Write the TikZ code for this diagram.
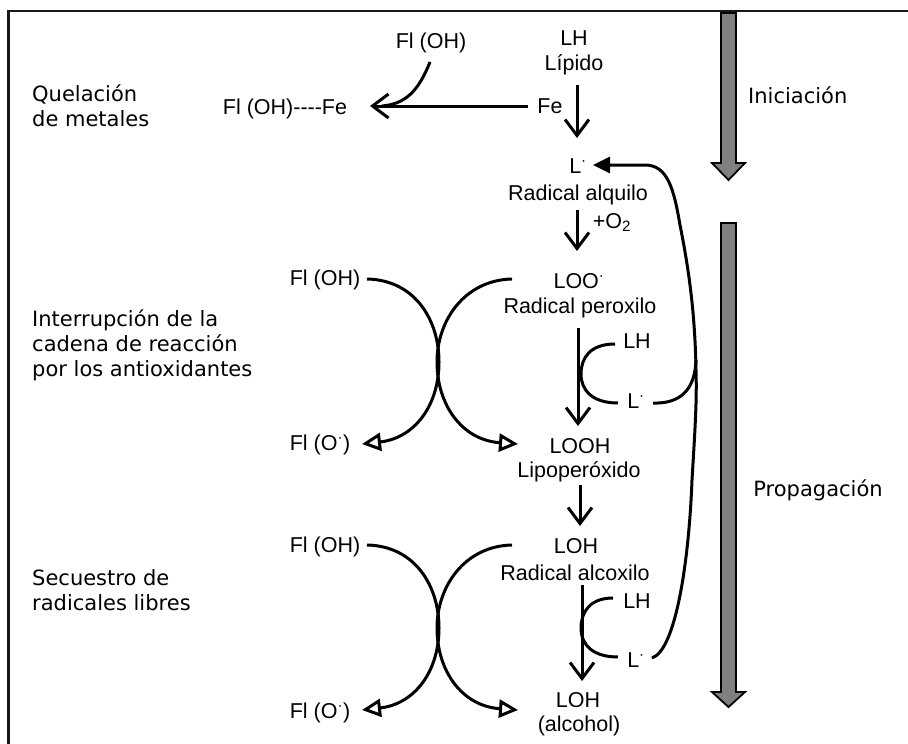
\documentclass[tikz,border=0pt]{standalone}
\usepackage{fontspec}
\setmainfont{Liberation Sans}
\newfontfamily\verd{DejaVu Sans}
\usetikzlibrary{arrows.meta}
\definecolor{arrowgray}{HTML}{808080}
\begin{document}
\begin{tikzpicture}[x=1pt,y=-1pt,
  txt/.style={inner sep=0pt, anchor=base, font=\fontsize{21.5}{24}\selectfont},
  lbl/.style={inner sep=0pt, anchor=base west, font=\verd\fontsize{21}{25}\selectfont},
  conn/.style={line width=3pt},
  barb/.style={conn, -{Straight Barb[length=16pt,width=24pt]}},
  opentri/.style={conn, -{Triangle[open,length=19pt,width=18pt]}},
  filltri/.style={conn, -{Triangle[length=17pt,width=16pt]}},
  bigarrow/.style={fill=arrowgray, draw=black, line width=1.8pt}
]
\useasboundingbox (0,0) rectangle (908,744);
% frame
\draw[line width=2.5pt, black!90] (8.7,744) -- (8.7,10.8) -- (908,10.8);

% left labels
\node[lbl] (q1) at (32,101) {Quelación};
\node[lbl] (q2) at (32,126) {de metales};
\node[lbl] (i1) at (32,326) {Interrupción de la};
\node[lbl] (i2) at (32,351) {cadena de reacción};
\node[lbl] (i3) at (32,376) {por los antioxidantes};
\node[lbl] (s1) at (32,585) {Secuestro de};
\node[lbl] (s2) at (32,610) {radicales libres};
\node[lbl] (ini) at (748,103) {Iniciación};
\node[lbl, anchor=base] (prop) at (818,496) {Propagación};

% chemistry texts
\node[txt] (flTop) at (431,48) {Fl (OH)};
\node[txt] (lh0) at (574,45) {LH};
\node[txt] (lipido) at (574,70) {Lípido};
\node[txt] (fe) at (550,113) {Fe};
\node[txt] (flfe) at (285,114) {Fl (OH){-}{-}{-}{-}Fe};
\node[txt] (L1) at (578,173) {L\textsuperscript{·}};
\node[txt] (ralq) at (578,200) {Radical alquilo};
\node[txt] (o2) at (612,228) {+O\textsubscript{2}};
\node[txt] (loo) at (579,288) {LOO\textsuperscript{·}};
\node[txt] (rper) at (580,313) {Radical peroxilo};
\node[txt] (lh1) at (637,348) {LH};
\node[txt] (L2) at (636,408) {L\textsuperscript{·}};
\node[txt] (looh) at (580,453) {LOOH};
\node[txt] (lipo) at (579,477) {Lipoperóxido};
\node[txt] (loh) at (576,553) {LOH};
\node[txt] (ralc) at (575,580) {Radical alcoxilo};
\node[txt] (lh2) at (637,608) {LH};
\node[txt] (L3) at (636,667) {L\textsuperscript{·}};
\node[txt] (loh2) at (578,707) {LOH};
\node[txt] (alc) at (579,731) {(alcohol)};
\node[txt] (flA) at (325,285) {Fl (OH)};
\node[txt] (floA) at (320,450) {Fl (O\textsuperscript{·})};
\node[txt] (flB) at (325,552) {Fl (OH)};
\node[txt] (floB) at (320,718) {Fl (O\textsuperscript{·})};

% connector end points
\coordinate (lipidoS) at (577,85);
\coordinate (L1N) at (577,138);
\coordinate (ralqS) at (577,210);
\coordinate (looN) at (577,251);
\coordinate (rperS) at (578,328);
\coordinate (loohN) at (578,426);
\coordinate (lipoS) at (580,485);
\coordinate (lohN) at (580,526);
\coordinate (ralcS) at (582,585);
\coordinate (loh2N) at (582,681);
\coordinate (feW) at (528,106);
\coordinate (flfeE) at (370,106);
\coordinate (flTopS) at (430,62);
\coordinate (L1E) at (593,165);
\coordinate (L2E) at (653,403);
\coordinate (L3E) at (652,658);

% vertical reaction arrows
\draw[barb] (lipidoS) -- (L1N);
\draw[barb] (ralqS) -- (looN);
\draw[barb] (rperS) -- (loohN);
\draw[barb] (lipoS) -- (lohN);
\draw[barb] (ralcS) -- (loh2N);

% chelation
\draw[barb] (feW) -- (flfeE);
\draw[conn] (flTopS) .. controls (418,92) and (405,104) .. (382,106);

% small LH / L. arcs
\draw[conn] (615,344) .. controls (590,344) and (581,358) .. (581,374)
            .. controls (581,390) and (592,403) .. (618,403);
\draw[conn] (613,598) .. controls (590,598) and (581,612) .. (581,628)
            .. controls (581,645) and (593,657) .. (618,657);

% big recycling line
\draw[filltri] (L3E) .. controls (676,650) and (689,560) .. (692,480)
   .. controls (695,430) and (697,400) .. (696,370)
   .. controls (695,310) and (688,265) .. (680,225)
   .. controls (674,190) and (668,165) .. (645,165) -- (L1E);
\draw[conn] (L2E) .. controls (680,404) and (695,390) .. (696,360);

% antioxidant crossing arcs
\foreach \dy in {0,266}{
  \begin{scope}[yshift=-\dy pt]
  \draw[opentri] (367,279) .. controls (415,280) and (439,320) .. (439,362)
        .. controls (439,405) and (415,438) .. (362,444);
  \draw[opentri] (512,279) .. controls (465,280) and (437,320) .. (437,362)
        .. controls (437,405) and (462,440) .. (518,444);
  \end{scope}
}

% big gray phase arrows
\draw[bigarrow] (721,13) -- (736,13) -- (736,163) -- (745,163) -- (728.5,180)
   -- (712,163) -- (721,163) -- cycle;
\draw[bigarrow] (721,223) -- (736,223) -- (736,692) -- (745,692) -- (728.5,707)
   -- (712,692) -- (721,692) -- cycle;
\end{tikzpicture}
\end{document}
